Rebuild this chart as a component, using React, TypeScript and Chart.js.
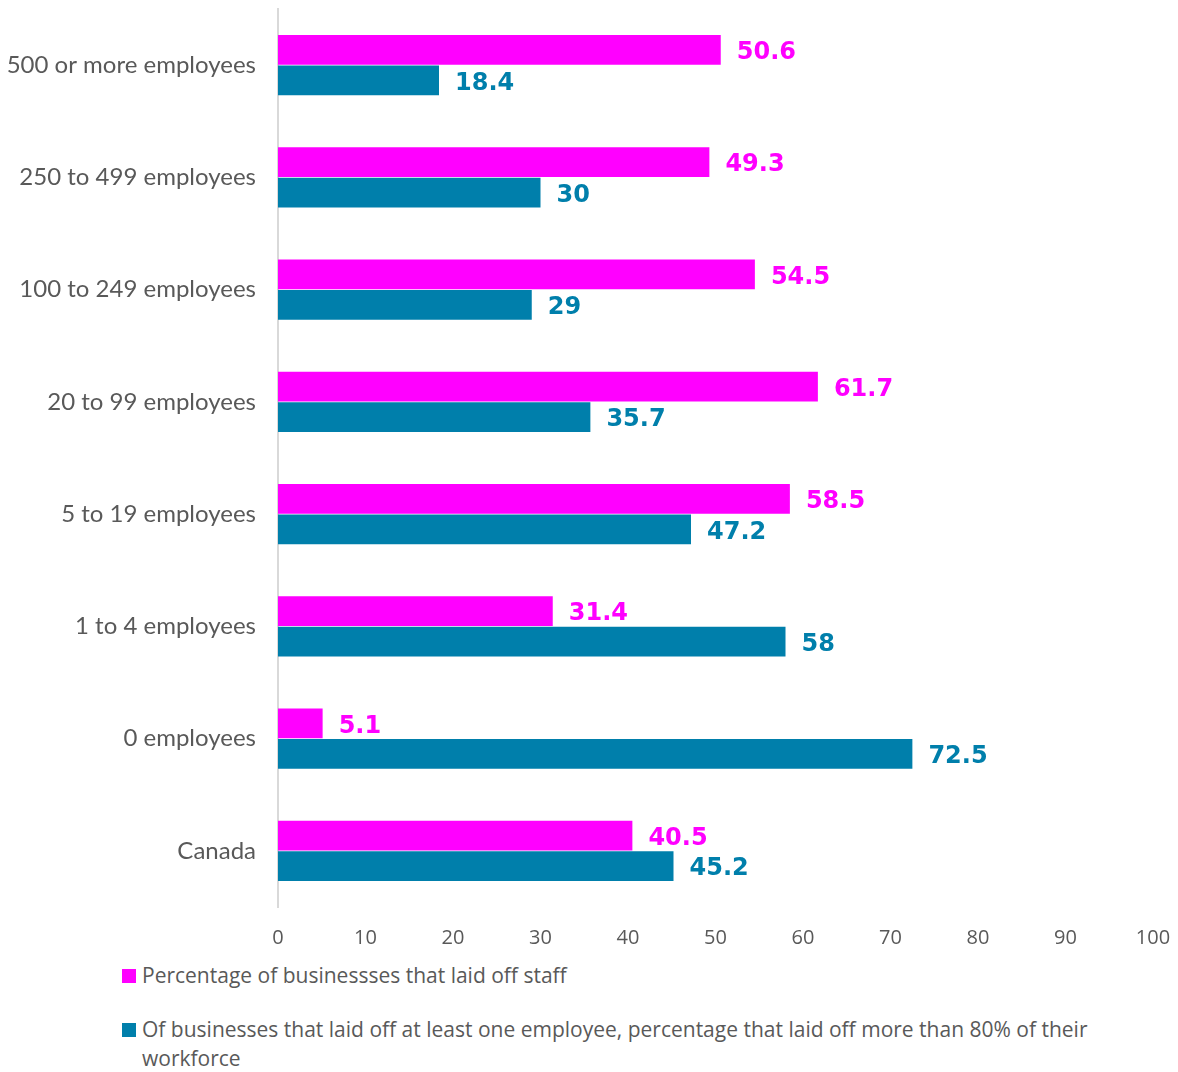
import React, { useEffect, useRef } from "react";
import { Chart, registerables } from "chart.js";

Chart.register(...registerables);

const categories = [
  "500 or more employees",
  "250 to 499 employees",
  "100 to 249 employees",
  "20 to 99 employees",
  "5 to 19 employees",
  "1 to 4 employees",
  "0 employees",
  "Canada",
];
const laidOffStaff = [50.6, 49.3, 54.5, 61.7, 58.5, 31.4, 5.1, 40.5];
const laidOffOver80 = [18.4, 30, 29, 35.7, 47.2, 58, 72.5, 45.2];
const seriesNames = [
  "Percentage of businessses that laid off staff",
  "Of businesses that laid off at least one employee, percentage that laid off more than 80% of their workforce",
];
const colors = ["#FF00FF", "#007FAB"];

const W = 1178;
const H = 950;

const valueLabels = {
  id: "valueLabels",
  afterDatasetsDraw(chart: any) {
    const ctx = chart.ctx;
    ctx.save();
    ctx.font = "bold 24px 'DejaVu Sans', sans-serif";
    ctx.textAlign = "left";
    ctx.textBaseline = "middle";
    chart.data.datasets.forEach((ds: any, di: number) => {
      const meta = chart.getDatasetMeta(di);
      ctx.fillStyle = ds.backgroundColor;
      meta.data.forEach((bar: any, i: number) => {
        ctx.fillText(String(ds.data[i]), bar.x + 16, bar.y + 3);
      });
    });
    ctx.restore();
  },
};

export default function App() {
  const ref = useRef<HTMLCanvasElement>(null);
  useEffect(() => {
    document.body.style.margin = "0";
    const chart = new Chart(ref.current!, {
      type: "bar",
      data: {
        labels: categories,
        datasets: [
          { label: seriesNames[0], data: laidOffStaff, backgroundColor: colors[0], borderWidth: 0 },
          { label: seriesNames[1], data: laidOffOver80, backgroundColor: colors[1], borderWidth: 0 },
        ],
      },
      options: {
        indexAxis: "y",
        responsive: false,
        animation: false,
        layout: { padding: { top: 9, right: 25, left: 0, bottom: 0 } },
        datasets: { bar: { categoryPercentage: 0.54, barPercentage: 0.98 } },
        plugins: { legend: { display: false }, tooltip: { enabled: false } },
        scales: {
          x: {
            min: 0,
            max: 100,
            ticks: {
              stepSize: 10,
              color: "#595959",
              padding: 19,
              font: { family: "'Open Sans', sans-serif", size: 20 },
            },
            grid: { display: false, drawTicks: false },
            border: { display: false },
            afterFit: (s: any) => {
              s.height = H - 907;
              s.paddingLeft = 0;
              s.paddingRight = 0;
            },
          },
          y: {
            ticks: {
              color: "#595959",
              padding: 22,
              font: { family: "Lato, sans-serif", size: 24 },
            },
            grid: { display: false, drawTicks: false },
            border: { display: true, color: "#D9D9D9", width: 2 },
            afterFit: (s: any) => {
              s.width = 278;
              s.paddingTop = 0;
              s.paddingBottom = 0;
            },
          },
        },
      },
      plugins: [valueLabels],
    });
    return () => chart.destroy();
  }, []);

  const legendItem = (i: number, top: number) => (
    <div
      style={{
        position: "absolute",
        left: 122,
        top,
        width: 1000,
        display: "flex",
        alignItems: "flex-start",
        fontFamily: "'Open Sans', sans-serif",
        fontSize: 21,
        lineHeight: "29px",
        color: "#595959",
      }}
    >
      <span
        style={{
          display: "inline-block",
          width: 14,
          height: 14,
          background: colors[i],
          marginTop: 8,
          marginRight: 6,
          flex: "0 0 auto",
        }}
      />
      <span>{seriesNames[i]}</span>
    </div>
  );

  return (
    <div style={{ position: "relative", width: W, height: 1072, background: "#fff" }}>
      <canvas ref={ref} width={W} height={H} style={{ display: "block" }} />
      {legendItem(0, 961)}
      {legendItem(1, 1015)}
    </div>
  );
}
